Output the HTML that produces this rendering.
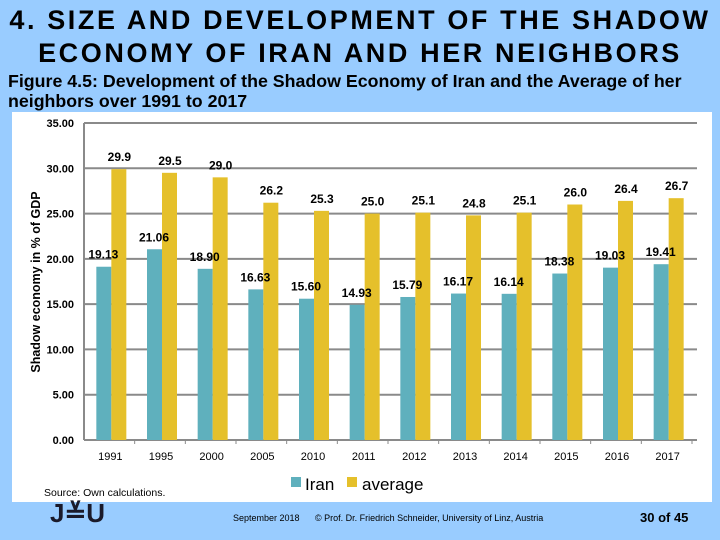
<!DOCTYPE html>
<html><head><meta charset="utf-8"><style>
body{margin:0;width:720px;height:540px;background:#99ccff;font-family:"Liberation Sans",Arial,sans-serif;overflow:hidden;position:relative}
.t{position:absolute;white-space:nowrap}
</style></head><body>
<div class="t" style="left:0;width:720px;top:4px;text-align:center;font-weight:bold;font-size:27px;line-height:33px;letter-spacing:2.6px">4. SIZE AND DEVELOPMENT OF THE SHADOW<br>ECONOMY OF IRAN AND HER NEIGHBORS</div>
<div class="t" style="left:8px;top:71px;font-weight:bold;font-size:17.8px;line-height:20px">Figure 4.5: Development of the Shadow Economy of Iran and the Average of her<br>neighbors over 1991 to 2017</div>
<svg width="720" height="540" style="position:absolute;left:0;top:0">
<rect x="12" y="112" width="700" height="390" fill="#fff"/>
<g id="grid"></g><g id="bars"></g><g id="labels"></g>
<text x="40" y="282" transform="rotate(-90 40 282)" text-anchor="middle" font-size="12.5" font-weight="bold">Shadow economy in % of GDP</text>
<rect x="291" y="477" width="10" height="10" fill="#5fb0bd"/>
<text x="305" y="490" font-size="17">Iran</text>
<rect x="347" y="477" width="10" height="10" fill="#e5c02b"/>
<text x="362" y="490" font-size="17">average</text>
<text x="44" y="496" font-size="10.5">Source: Own calculations.</text>
<text x="50" y="522" font-size="26" font-weight="bold" fill="#1a1a2a">J≚U</text>
<text x="233" y="521" font-size="9">September 2018</text>
<text x="315" y="521" font-size="9">© Prof. Dr. Friedrich Schneider, University of Linz, Austria</text>
<text x="640" y="522" font-size="13" font-weight="bold">30 of 45</text>
</svg>
<script>
const categories=["1991","1995","2000","2005","2010","2011","2012","2013","2014","2015","2016","2017"];
const iranValues=[19.13,21.06,18.90,16.63,15.60,14.93,15.79,16.17,16.14,18.38,19.03,19.41];
const averageValues=[29.9,29.5,29.0,26.2,25.3,25.0,25.1,24.8,25.1,26.0,26.4,26.7];
const yTicks=[0,5,10,15,20,25,30,35];
const NS="http://www.w3.org/2000/svg";
const x0=84,x1=692,yBase=440,yTop=123,yMax=35;
const band=(x1-x0)/categories.length;
const yS=v=>yBase-(v/yMax)*(yBase-yTop);
const xC=i=>x0+band*(i+0.5);
function mk(tag,attrs,parent){const e=document.createElementNS(NS,tag);for(const k in attrs)e.setAttribute(k,attrs[k]);document.getElementById(parent).appendChild(e);return e;}
yTicks.forEach(t=>{
 const l=mk('line',{x1:x0,x2:697,y1:yS(t),y2:yS(t),stroke:'#8a8a8a','stroke-width':2},'grid');
 
 
 const tx=mk('text',{x:74,y:yS(t)+4,'text-anchor':'end','font-size':11,'font-weight':'bold'},'grid');
 tx.textContent=t.toFixed(2);
 
 
});
mk('line',{x1:x0,x2:x0,y1:yTop,y2:yBase,stroke:'#8a8a8a','stroke-width':2},'grid');
categories.forEach((c,i)=>{
 const cx=xC(i);
 const tk=mk('line',{x1:x0+band*(i+1),x2:x0+band*(i+1),y1:yBase,y2:yBase+4,stroke:'#8a8a8a','stroke-width':1},'grid');
 
 
 const lb=mk('text',{x:cx+1,y:460,'text-anchor':'middle','font-size':11},'labels');
 lb.textContent=c;
 
 
 const bi=mk('rect',{x:cx-13,y:yS(iranValues[i]),width:15,height:yBase-yS(iranValues[i]),fill:'#5fb0bd'},'bars');
 
 
 const ba=mk('rect',{x:cx+2,y:yS(averageValues[i]),width:15,height:yBase-yS(averageValues[i]),fill:'#e5c02b'},'bars');
 
 
 const li=mk('text',{x:cx-6,y:yS(iranValues[i])-8,'text-anchor':'middle','font-size':12,'font-weight':'bold'},'labels');
 li.textContent=iranValues[i].toFixed(2);
 
 
 const la=mk('text',{x:cx+10,y:yS(averageValues[i])-8,'text-anchor':'middle','font-size':12,'font-weight':'bold'},'labels');
 la.textContent=averageValues[i].toFixed(1);
 
 
});
</script>
</body></html>
